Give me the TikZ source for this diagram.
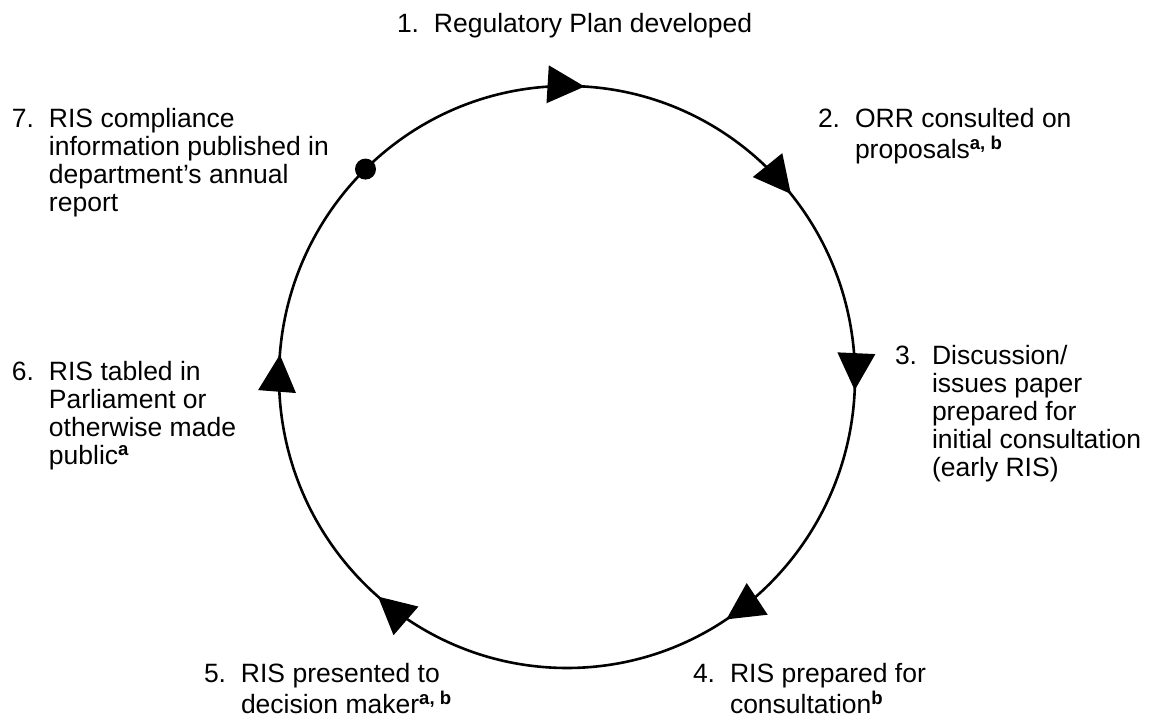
\documentclass[tikz,border=0pt]{standalone}
\usepackage{fontspec}
\setmainfont{Liberation Sans}
\usetikzlibrary{calc}
\newcommand\steplab[1]{\begin{tabular}[t]{@{}p{37pt}@{}l@{}}#1\end{tabular}}
\newcommand\sups[1]{\textsuperscript{\textbf{#1}}}
\begin{document}
\begin{tikzpicture}[x=1pt,y=1pt,
  lab/.style={anchor=base west,inner sep=0pt,outer sep=0pt,font=\fontsize{26.5}{28}\selectfont},
  ring/.style={line width=2.6pt},
  tri/.style={fill=black}]
\useasboundingbox (0,0) rectangle (1149,720);
\coordinate (c) at (567,343);
\draw[ring] (c) ellipse [x radius=288, y radius=291];
\foreach \a [count=\i] in {86.5,39,-2.6,-56.4,229,175.6}{
  \coordinate (tip\i) at ($(c)+(\a:288pt and 291pt)$);
  \fill[tri] (tip\i) -- ($(tip\i)+(\a+90:37pt)+(\a:19pt)$) -- ($(tip\i)+(\a+90:37pt)+(\a:-19pt)$) -- cycle;
}
\coordinate (dotc) at ($(c)+(134.4:288pt and 291pt)$);
\fill (dotc) circle (10.5pt);
% labels
\node[lab] (l1) at (397,687) {\steplab{1.&Regulatory Plan developed}};
\node[lab] (l2) at (818,592) {\steplab{2.&ORR consulted on\\&proposals\sups{a, b}}};
\node[lab] (l3) at (895,355) {\steplab{3.&Discussion/\\&issues paper\\&prepared for\\&initial consultation\\&(early RIS)}};
\node[lab] (l4) at (693,37) {\steplab{4.&RIS prepared for\\&consultation\sups{b}}};
\node[lab] (l5) at (204,37) {\steplab{5.&RIS presented to\\&decision maker\sups{a, b}}};
\node[lab] (l6) at (12,339) {\steplab{6.&RIS tabled in\\&Parliament or\\&otherwise made\\&public\sups{a}}};
\node[lab] (l7) at (12,592) {\steplab{7.&RIS compliance\\&information published in\\&department’s annual\\&report}};
\end{tikzpicture}
\end{document}
